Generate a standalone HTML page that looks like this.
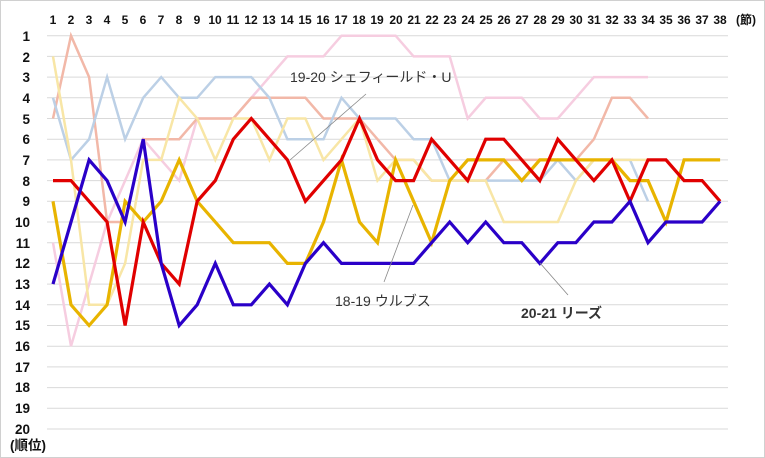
<!DOCTYPE html>
<html><head><meta charset="utf-8"><style>
html,body{margin:0;padding:0;background:#fff}
svg{display:block}
text{font-family:"Liberation Sans","Noto Sans CJK JP",sans-serif}
.t{font-size:12px;font-weight:bold;fill:#111}
.y{font-size:13.5px;font-weight:bold;fill:#111}
.l{font-size:14px;fill:#333}
</style></head><body>
<svg id="s" width="765" height="458" viewBox="0 0 765 458">
<rect x="0.5" y="0.5" width="764" height="457" fill="#fff" stroke="#d0d0d0"/>
<g id="grid" stroke="#d9d9d9" stroke-width="1"></g>
<g class="t" text-anchor="middle">
<text x="53" y="24">1</text><text x="71" y="24">2</text><text x="89" y="24">3</text><text x="107" y="24">4</text><text x="125" y="24">5</text><text x="143" y="24">6</text><text x="161" y="24">7</text><text x="179" y="24">8</text><text x="197" y="24">9</text><text x="215" y="24">10</text><text x="233" y="24">11</text><text x="251" y="24">12</text><text x="269" y="24">13</text><text x="287" y="24">14</text><text x="305" y="24">15</text><text x="323" y="24">16</text><text x="341" y="24">17</text><text x="359" y="24">18</text><text x="377" y="24">19</text><text x="396" y="24">20</text><text x="414" y="24">21</text><text x="432" y="24">22</text><text x="450" y="24">23</text><text x="468" y="24">24</text><text x="486" y="24">25</text><text x="504" y="24">26</text><text x="522" y="24">27</text><text x="540" y="24">28</text><text x="558" y="24">29</text><text x="576" y="24">30</text><text x="594" y="24">31</text><text x="612" y="24">32</text><text x="630" y="24">33</text><text x="648" y="24">34</text><text x="666" y="24">35</text><text x="684" y="24">36</text><text x="702" y="24">37</text><text x="720" y="24">38</text>
<text x="746" y="24">(節)</text>
</g>
<g class="y" text-anchor="end">
<text x="30" y="41">1</text><text x="30" y="62">2</text><text x="30" y="82">3</text><text x="30" y="103">4</text><text x="30" y="124">5</text><text x="30" y="144">6</text><text x="30" y="165">7</text><text x="30" y="186">8</text><text x="30" y="206">9</text><text x="30" y="227">10</text><text x="30" y="248">11</text><text x="30" y="268">12</text><text x="30" y="289">13</text><text x="30" y="310">14</text><text x="30" y="330">15</text><text x="30" y="351">16</text><text x="30" y="372">17</text><text x="30" y="392">18</text><text x="30" y="413">19</text><text x="30" y="434">20</text>
</g>
<text class="y" x="10" y="450">(順位)</text>
<g id="lines" fill="none" stroke-linejoin="miter"></g>
<g stroke="#888" stroke-width="0.8">
<line x1="366" y1="94" x2="290" y2="160"/>
<line x1="384" y1="282" x2="413" y2="205"/>
<line x1="540" y1="263" x2="568" y2="295"/>
</g>
<text class="l" x="290" y="82">19-20 シェフィールド・U</text>
<text class="l" x="335" y="306">18-19 ウルブス</text>
<text class="l" x="521" y="318" style="font-weight:bold">20-21 リーズ</text>
</svg>
<script>
var X=function(r){return 53+(r-1)*18.03},Y=function(k){return 35.7+(k-1)*20.7};
var g=document.getElementById('grid'),h='';
for(var k=1;k<=20;k++){h+='<line x1="47" x2="728" y1="'+Y(k)+'" y2="'+Y(k)+'"/>';}
g.innerHTML=h;
var S=[
['#f6cde0',2.5,[11,16,13,10,8,6,7,8,5,5,5,4,3,2,2,2,1,1,1,1,2,2,2,5,4,4,4,5,5,4,3,3,3,3]],
['#f2b8a8',2.5,[5,1,3,10,10,6,6,6,5,5,5,4,4,4,4,5,5,5,6,7,7,8,8,8,8,7,7,7,7,7,6,4,4,5]],
['#bcd0e6',2.5,[4,7,6,3,6,4,3,4,4,3,3,3,4,6,6,6,4,5,5,5,6,6,8,8,8,8,8,8,7,8,7,7,7,9]],
['#f8e6a6',2.5,[2,7,14,14,12,7,7,4,5,7,5,5,7,5,5,7,6,5,8,7,7,8,8,8,8,10,10,10,10,8,7,7,7,7]],
['#e8b400',3.2,[9,14,15,14,9,10,9,7,9,10,11,11,11,12,12,10,7,10,11,7,9,11,8,7,7,7,8,7,7,7,7,7,8,8,10,7,7,7]],
['#e00000',3.2,[8,8,9,10,15,10,12,13,9,8,6,5,6,7,9,8,7,5,7,8,8,6,7,8,6,6,7,8,6,7,8,7,9,7,7,8,8,9]],
['#2a00c8',3.2,[13,10,7,8,10,6,12,15,14,12,14,14,13,14,12,11,12,12,12,12,12,11,10,11,10,11,11,12,11,11,10,10,9,11,10,10,10,9]]
];
var o='';
S.forEach(function(s){var p=s[2].map(function(v,i){return X(i+1).toFixed(1)+','+Y(v).toFixed(1)}).join(' ');
o+='<polyline stroke="'+s[0]+'" stroke-width="'+s[1]+'" points="'+p+'"/>';});
document.getElementById('lines').innerHTML=o;
</script>
</body></html>
